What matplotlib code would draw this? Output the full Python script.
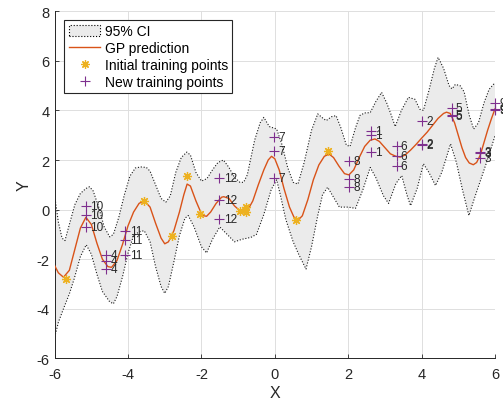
import numpy as np
import matplotlib
matplotlib.use("Agg")
import matplotlib.pyplot as plt
from matplotlib.patches import Patch
from matplotlib.lines import Line2D

plt.rcParams['font.family'] = ['Liberation Sans', 'DejaVu Sans']

# ---- data ----
mean_x = [-6.0, -5.9, -5.76, -5.6, -5.45, -5.3, -5.15, -5.0, -4.85, -4.7, -4.55, -4.45, -4.3, -4.15,
          -4.0, -3.85, -3.7, -3.56, -3.4, -3.25, -3.1, -3.0, -2.9, -2.75, -2.6, -2.48, -2.39, -2.3,
          -2.15, -2.02, -1.93, -1.86, -1.75, -1.6, -1.45, -1.39, -1.25, -1.1, -0.95, -0.85, -0.75,
          -0.6, -0.45, -0.3, -0.18, -0.09, 0.0, 0.12, 0.25, 0.4, 0.52, 0.63, 0.75, 0.9, 1.05, 1.2,
          1.35, 1.48, 1.6, 1.75, 1.9, 2.02, 2.15, 2.3, 2.45, 2.6, 2.73, 2.85, 3.0, 3.15, 3.3, 3.42,
          3.55, 3.7, 3.85, 4.0, 4.15, 4.3, 4.45, 4.6, 4.68, 4.78, 4.9, 5.0, 5.1, 5.2, 5.3, 5.41,
          5.5, 5.6, 5.7, 5.8, 5.9, 6.0]
mean_y = [-2.26, -2.55, -2.73, -2.45, -1.6, -0.75, -0.31, -0.6, -1.35, -2.0, -2.3, -2.33, -2.05, -1.4,
          -0.65, -0.1, 0.25, 0.36, 0.1, -0.55, -1.15, -1.38, -1.3, -0.85, -0.1, 0.6, 1.03, 0.95,
          0.35, -0.1, -0.25, -0.27, -0.1, 0.25, 0.5, 0.52, 0.45, 0.15, -0.05, -0.1, -0.05,
          0.35, 1.0, 1.6, 2.0, 2.15, 2.05, 1.6, 0.85, 0.1, -0.3, -0.43, -0.25, 0.4, 1.2, 1.8,
          2.15, 2.24, 2.1, 1.75, 1.45, 1.40, 1.6, 2.1, 2.55, 2.8, 2.85, 2.75, 2.5, 2.25, 2.15, 2.12,
          2.2, 2.4, 2.63, 2.88, 3.12, 3.4, 3.68, 3.88, 3.93, 3.88, 3.5, 3.0, 2.5, 2.1, 1.88, 1.81,
          1.9, 2.2, 2.7, 3.2, 3.65, 4.06]

upper_x = [-6.0, -5.9, -5.8, -5.72, -5.6, -5.45, -5.3, -5.15, -5.05, -4.95, -4.8, -4.65, -4.5, -4.4,
           -4.25, -4.1, -3.95, -3.8, -3.65, -3.5, -3.4, -3.25, -3.1, -2.97, -2.85, -2.7, -2.55, -2.4,
           -2.3, -2.15, -2.0, -1.85, -1.7, -1.55, -1.4, -1.25, -1.1, -0.95, -0.85, -0.75, -0.55, -0.4,
           -0.3, -0.15, -0.05, 0.05, 0.2, 0.35, 0.5, 0.63, 0.8, 1.0, 1.17, 1.3, 1.4, 1.55, 1.67, 1.8,
           1.95, 2.05, 2.2, 2.32, 2.45, 2.6, 2.75, 2.91, 3.05, 3.18, 3.28, 3.45, 3.64, 3.82, 3.95,
           4.05, 4.2, 4.35, 4.45, 4.6, 4.75, 4.83, 4.92, 5.05, 5.16, 5.3, 5.42, 5.55, 5.7, 5.84, 6.0]
upper_y = [0.55, -0.5, -1.15, -1.25, -0.6, 0.2, 0.65, 0.85, 0.92, 0.75, 0.1, -0.7, -1.1, -1.0,
           -0.3, 0.6, 1.35, 1.68, 1.72, 1.7, 1.55, 1.0, 0.45, 0.3, 0.55, 1.5, 2.1, 2.32,
           2.2, 1.5, 1.15, 1.25, 1.6, 1.9, 2.0, 1.7, 1.3, 1.1, 1.1, 1.4, 2.8, 3.5,
           3.72, 3.35, 3.3, 3.25, 2.6, 1.7, 1.1, 1.03, 1.9, 3.2, 3.86, 3.7, 3.59, 3.75, 3.79, 3.3,
           2.6, 2.55, 3.3, 3.8, 3.9, 3.91, 4.35, 4.73, 4.3, 3.79, 3.35, 4.0, 4.53, 4.45, 4.05,
           4.0, 4.8, 5.7, 6.14, 5.7, 5.0, 4.87, 5.05, 5.0, 4.75, 3.8, 3.25, 3.5, 4.3, 4.85, 5.12]

lower_x = [-6.0, -5.9, -5.76, -5.6, -5.47, -5.3, -5.14, -5.0, -4.85, -4.7, -4.5, -4.4, -4.3, -4.15,
           -4.0, -3.85, -3.7, -3.56, -3.4, -3.25, -3.1, -3.0, -2.9, -2.75, -2.6, -2.45, -2.36, -2.2,
           -2.0, -1.86, -1.7, -1.5, -1.3, -1.1, -0.9, -0.65, -0.5, -0.3, -0.1, 0.05, 0.15, 0.3, 0.5,
           0.65, 0.85, 1.0, 1.17, 1.3, 1.44, 1.6, 1.76, 2.0, 2.2, 2.4, 2.6, 2.75, 2.96, 3.1, 3.3,
           3.46, 3.6, 3.7, 3.88, 4.05, 4.2, 4.38, 4.55, 4.79, 4.95, 5.11, 5.29, 5.45, 5.65, 5.85, 6.0]
lower_y = [-5.15, -4.55, -4.0, -3.4, -2.8, -1.9, -1.42, -1.8, -2.6, -3.3, -3.72, -3.8, -3.5, -2.7,
           -1.75, -1.05, -0.9, -0.85, -1.3, -2.3, -3.1, -3.38, -3.1, -2.1, -1.05, -0.35, -0.24, -0.7,
           -1.5, -1.75, -1.2, -0.7, -1.0, -1.3, -1.2, -1.12, -1.0, -0.2, 0.8, 1.2, 0.6, -0.4, -1.3,
           -1.8, -2.4, -1.5, -0.24, 0.6, 0.9, 0.5, 0.1, 0.1, 0.05, 0.8, 1.7, 1.3, 0.56, 0.25, 1.05,
           1.37, 0.6, 0.16, 0.85, 1.85, 1.5, 0.97, 1.5, 2.65, 1.9, 0.83, -0.24, 0.5, 1.37, 2.25, 2.98]

init_x = [-5.70, -3.56, -2.81, -2.39, -2.03, -0.96, -0.79, -0.79, 0.59, 1.44]
init_y = [-2.80, 0.36, -1.07, 1.36, -0.18, -0.04, 0.12, -0.09, -0.42, 2.37]

new_labels = ['1', '2', '3', '4', '5', '6', '7', '8', '9', '10', '11', '12']
new_x = [2.61, 4.02, 5.59, -4.60, 4.82, 3.32, -0.02, 2.02, 6.0, -5.15, -4.07, -1.51]
new_y = [[3.19, 3.02, 2.31], [3.56, 2.65, 2.60], [2.34, 2.30, 2.07], [-1.83, -2.06, -2.40],
         [4.10, 3.82, 3.77], [2.58, 2.15, 1.75], [2.92, 2.35, 1.28], [1.98, 1.24, 0.90],
         [4.29, 4.04, 4.00], [0.16, -0.22, -0.71], [-0.88, -1.21, -1.83], [1.26, 0.39, -0.38]]

x_ticks = [-6, -4, -2, 0, 2, 4, 6]
y_ticks = [-6, -4, -2, 0, 2, 4, 6, 8]

# ---- styles ----
c_band = '#ebebeb'
c_mean = '#D95319'
c_init = '#EDB120'
c_new = '#7E2F8E'
ast = (8, 2, 0)
dots = (0, (1, 1.6))

fig = plt.figure(figsize=(5.03, 4.06), dpi=100)
ax = fig.add_axes([0.1087, 0.115, 0.8753, 0.8547])

poly_x = np.concatenate([upper_x, lower_x[::-1]])
poly_y = np.concatenate([upper_y, lower_y[::-1]])
ax.fill(poly_x, poly_y, facecolor=c_band, edgecolor='none', zorder=1)
ax.plot(upper_x, upper_y, color='#1a1a1a', lw=0.8, ls=dots, zorder=2)
ax.plot(lower_x, lower_y, color='#1a1a1a', lw=0.8, ls=dots, zorder=2)
ax.plot(mean_x, mean_y, color=c_mean, lw=1.0, zorder=3)
ax.plot(init_x, init_y, ls='none', marker=ast, ms=6.5, mew=0.9, color=c_init, zorder=4)

for lab, xv, ys in zip(new_labels, new_x, new_y):
    for yv in ys:
        ax.plot([xv], [yv], ls='none', marker='+', ms=7.5, mew=0.8, color=c_new, zorder=5,
                clip_on=False)
        ax.annotate(lab, (xv, yv), xytext=(3.0, 0), textcoords='offset points',
                    ha='left', va='center', fontsize=8.5, color='#262626', zorder=6,
                    annotation_clip=False)

ax.set_xlim(-6, 6)
ax.set_ylim(-6, 8)
ax.set_xticks(x_ticks)
ax.set_yticks(y_ticks)
ax.set_xticklabels([str(t) for t in x_ticks])
ax.set_yticklabels([str(t) for t in y_ticks])
ax.tick_params(direction='in', length=3, width=0.6, labelsize=10.5, colors='#262626')
ax.tick_params(axis='x', pad=6)
ax.grid(True, color='#dedede', lw=0.7)
ax.set_axisbelow(True)
for s in ['top', 'right']:
    ax.spines[s].set_visible(False)
for s in ['left', 'bottom']:
    ax.spines[s].set_color('#262626')
    ax.spines[s].set_linewidth(0.7)
ax.set_xlabel('X', fontsize=11.5, color='#262626', labelpad=3)
ax.set_ylabel('Y', fontsize=11.5, color='#262626', labelpad=4)

handles = [Patch(facecolor=c_band, edgecolor='black', linestyle=':', linewidth=0.8),
           Line2D([], [], color=c_mean, lw=1.0),
           Line2D([], [], ls='none', marker=ast, ms=6, mew=0.9, color=c_init),
           Line2D([], [], ls='none', marker='+', ms=7, mew=0.8, color=c_new)]
texts = ['95% CI', 'GP prediction', 'Initial training points', 'New training points']
leg = ax.legend(handles, texts, loc='upper left', bbox_to_anchor=(0.022, 0.975),
                fontsize=10, frameon=True, fancybox=False, framealpha=1,
                edgecolor='#262626', handlelength=2.3, handleheight=0.9, handletextpad=0.3,
                borderpad=0.3, labelspacing=0.22, borderaxespad=0)
leg.get_frame().set_linewidth(0.8)

fig.savefig('out.png', dpi=100)
